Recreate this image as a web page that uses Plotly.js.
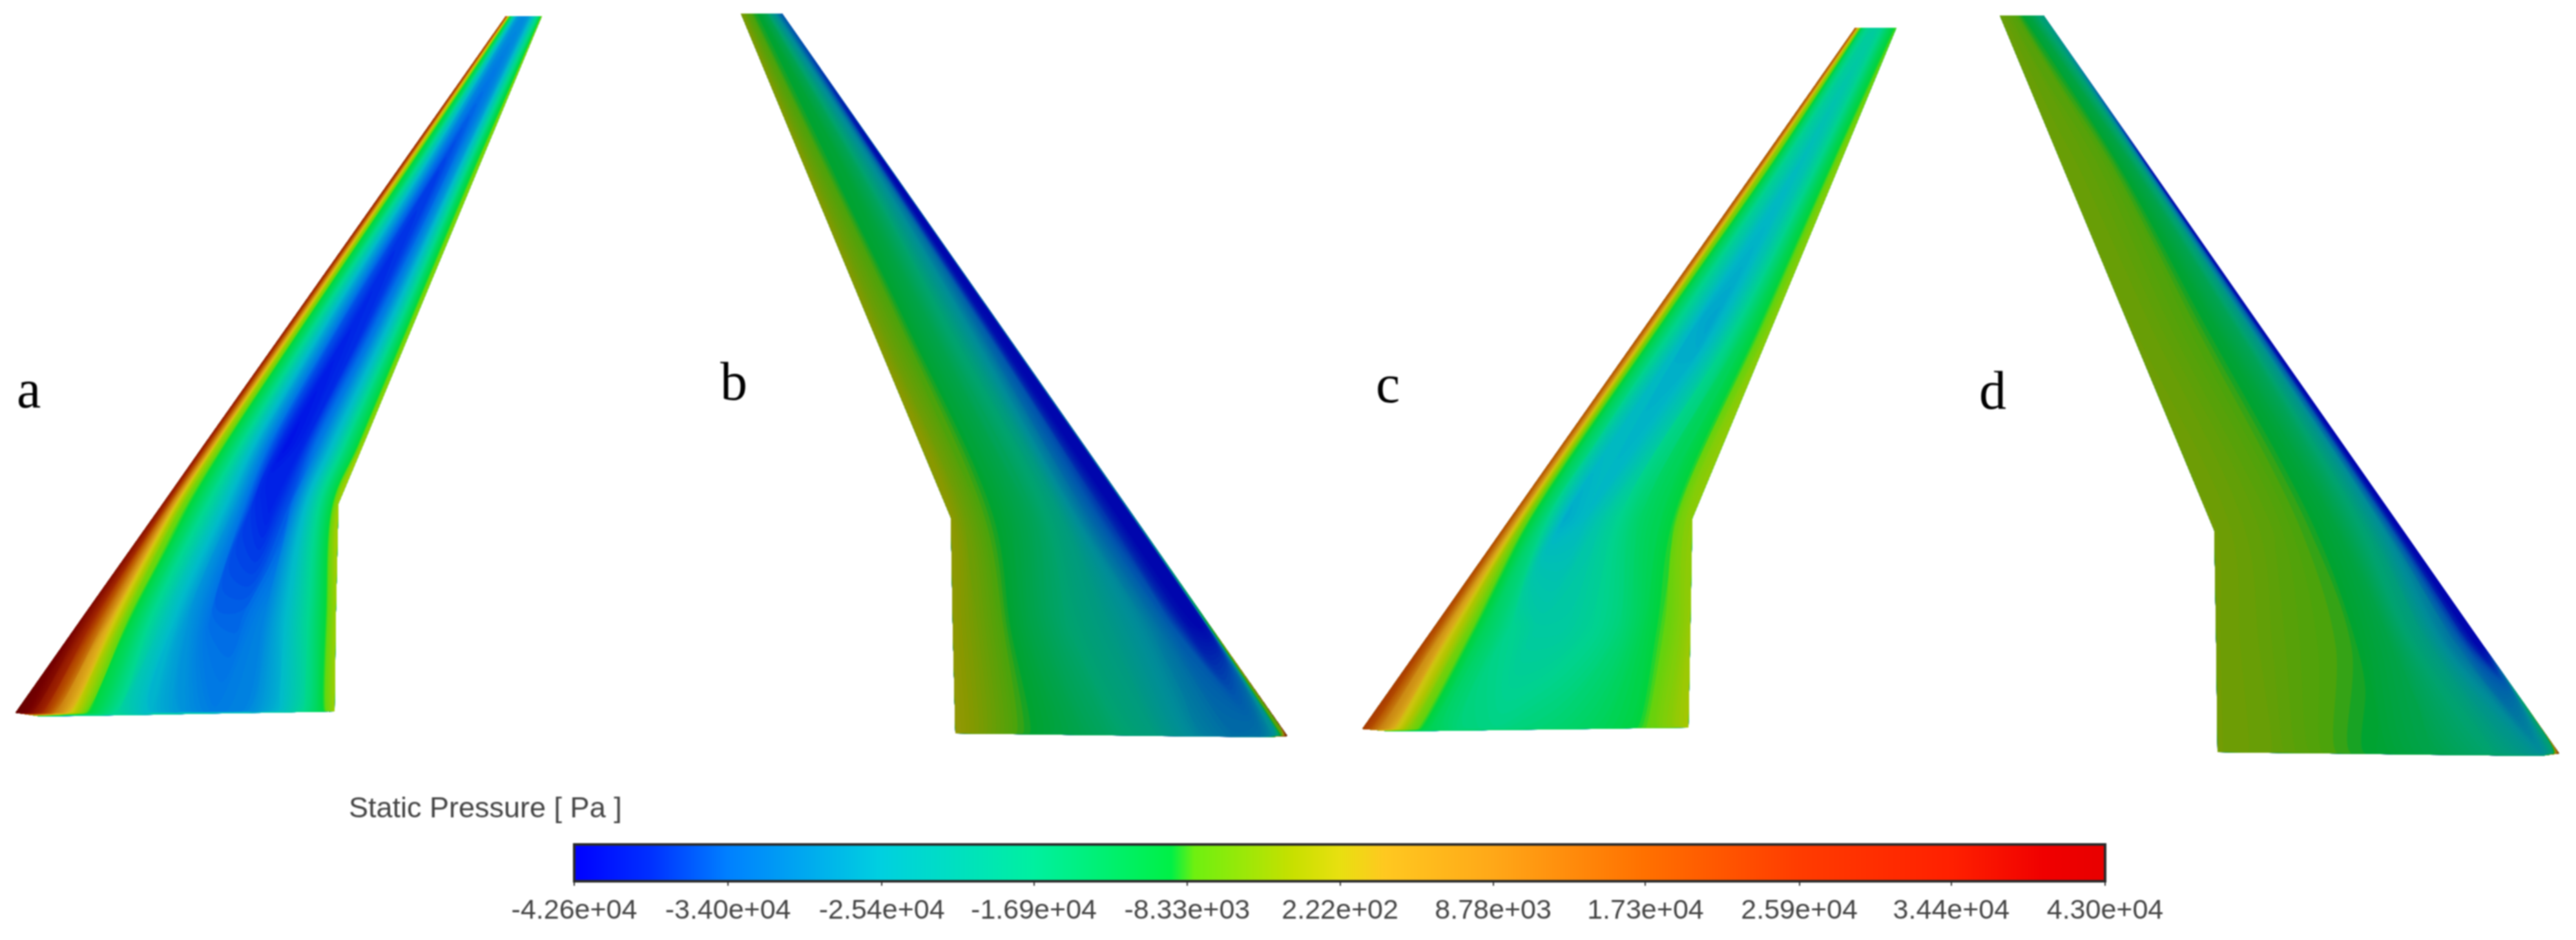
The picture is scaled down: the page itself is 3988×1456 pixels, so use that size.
<!DOCTYPE html>
<html>
<head>
<meta charset="utf-8">
<script src="https://cdn.plot.ly/plotly-3.0.1.min.js"></script>
<style>
html,body{margin:0;padding:0;background:#fff}
#chart{width:3988px;height:1456px;filter:blur(1px)}
</style>
</head>
<body>
<div id="chart"></div>
<script>
// Colour bar
const tickLabels = ['-4.26e+04','-3.40e+04','-2.54e+04','-1.69e+04','-8.33e+03','2.22e+02','8.78e+03','1.73e+04','2.59e+04','3.44e+04','4.30e+04'];
const tickValues = [-42600,-34000,-25400,-16900,-8330,222,8780,17300,25900,34400,43000];
const scaleStops = [0,.05,.1,.2,.3,.39,.405,.47,.5,.53,.6,.7,.8,.9,.96,1];
const scaleRGB = [[0,0,255],[0,48,255],[0,128,255],[0,208,224],[0,240,160],[0,240,70],[110,240,16],[200,224,0],[232,224,16],[255,200,32],[255,168,24],[255,112,0],[255,60,0],[255,32,0],[240,0,0],[232,0,0]];

// Wing a: chord fractions, stations (leading / trailing edge), pressures in kPa
const aChord = [0,.02,.05,.08,.12,.17,.22,.32,.42,.52,.62,.72,.82,.9,.96,1];
const aLeX = [783,625,449,315,252,132,24,64];
const aLeY = [25,250,500,690,780,950,1104,1110];
const aTeX = [839,745,641,562,524,520,518,518];
const aTeY = [25,250,500,690,780,950,1101,1102];
const aKPa = [
 [22,16,6,-3,-10,-14,-22,-29,-31,-31,-30,-26,-20,-15,-10,-5],
 [28,20,6,-3,-9,-12,-17,-27,-34,-37,-35,-30,-20,-12,-8,-5],
 [30,20,6,-3,-9,-13,-18,-28,-36,-39,-38,-33,-24,-15,-9,-5],
 [32,22,8,-3,-8,-12,-16,-26,-35,-41,-39,-33,-24,-15,-10,-4],
 [33,25,10,0,-7,-10,-14,-22,-30,-38,-39.5,-36,-25,-16,-10,-4],
 [38,34,24,14,2,-7,-12,-22,-30,-35,-35,-32,-24,-16,-9,-4],
 [43,42,36,26,12,1,-8,-18,-26,-30,-33,-32,-26,-17,-10,-4],
 [-22,-22,-22,-22,-22,-20,-18,-18,-18,-18,-20,-20,-18,-15,-10,-4]
];

// Wing b
const bChord = [0,.015,.04,.08,.15,.25,.4,.55,.7,.82,.92,1];
const bLeX = [1211,1371,1546,1757,1874,1993,1958];
const bLeY = [21,250,500,802,970,1140,1142];
const bTeX = [1147,1242,1346,1472,1475,1479,1479];
const bTeY = [21,250,500,802,970,1135,1136];
const bKPa = [
 [-33,-33,-32,-30,-26,-21,-13,-9.5,-8.5,-7,-5,-3],
 [-30,-42,-42,-38,-28,-22,-14,-10,-9,-7,-5,-2.5],
 [-30,-42,-42,-41,-33,-26,-18,-12.5,-9.5,-7,-5,-2.5],
 [-25,-42,-42,-42,-37,-31,-20,-14.5,-10.5,-8,-5,-2],
 [-5,-40,-42,-41,-34,-27,-21,-17,-12,-7.5,-4,-1.5],
 [30,-5,-25,-30,-31,-28,-20,-15,-11,-8,-4,-1],
 [-24,-26,-26,-26,-26,-24,-18,-14,-11,-8,-4,-1]
];

// Wing c
const cChord = [0,.02,.05,.09,.14,.2,.3,.4,.5,.6,.72,.82,.9,.95,1];
const cLeX = [2872,2727,2551,2338,2221,2109,2153];
const cLeY = [43,250,500,803,970,1129,1133];
const cTeX = [2936,2850,2746,2620,2617,2614,2614];
const cTeY = [43,250,500,803,970,1126,1127];
const cKPa = [
 [18,14,5,-3,-9,-14,-17,-19,-19,-18,-15,-12,-10,-9,-8],
 [18,14,4,-4,-8,-12,-18,-21,-24,-22,-17,-12,-9,-7,-5],
 [18,12,2,-7,-11,-15,-21,-27,-28,-24,-17,-12,-9,-7,-5],
 [18,12,2,-7,-11,-16,-27,-25,-21,-17,-13,-11,-9,-6,-5],
 [20,16,6,-1,-7,-12,-17,-20,-20,-18,-15,-11,-8,-6,-4],
 [22,18,10,3,-5,-11,-15,-16,-15,-14,-12,-10,-7,-5,-3],
 [-14,-14,-14,-14,-14,-13,-13,-13,-12,-12,-11,-9,-7,-5,-3]
];

// Wing d
const dChord = [0,.02,.05,.1,.2,.35,.5,.7,.85,1];
const dLeX = [3164,3322,3496,3721,3845,3962,3933];
const dLeY = [24,250,500,822,1000,1167,1171];
const dTeX = [3096,3190,3294,3428,3431,3433,3433];
const dTeY = [24,250,500,822,1000,1164,1165];
const dKPa = [
 [-19,-19,-19,-18,-15,-11,-9,-7,-6,-5],
 [-42,-38,-28,-18,-12,-9,-7,-6,-5.5,-5],
 [-42,-40,-32,-22,-14,-10,-8,-6.5,-5.5,-5],
 [-42,-42,-36,-26,-18,-11,-8.5,-6.5,-5.5,-4.5],
 [-42,-42,-37,-30,-21,-12,-8.5,-7,-5.5,-4.5],
 [20,-18,-25,-22,-17,-13,-10,-7.5,-5.5,-4.5],
 [-20,-20,-18,-16,-14,-11,-9,-7,-5.5,-4.5]
];

// Panel letters
const panelLetters = ['a','b','c','d'];
const panelX = [44,1136,2148,3085];
const panelY = [602,590,594,604];

const zMin = tickValues[0], zMax = tickValues[tickValues.length-1];
const barScale = scaleStops.map((t,i)=>[t,`rgb(${scaleRGB[i].join(',')})`]);
function litScale(shade){
  return scaleStops.map((t,i)=>{
    const k = shade*(t>.5 ? 1-(t-.5)*1.0 : 1);
    return [t,`rgb(${scaleRGB[i].map(v=>Math.round(v*k)).join(',')})`];
  });
}
function wing(id,chord,leX,leY,teX,teY,kPa,shade){
  const across = (l,t)=>l.map((v,j)=>chord.map(f=>v+f*(t[j]-v)));
  const rows = leX.map((_,j)=>j);
  const hidden = {showgrid:false,showline:false,showticklabels:'none',startline:false,endline:false,
                  minorgridcount:0,ticks:'',smoothing:0,linewidth:0,gridwidth:0,type:'linear'};
  return [
    {type:'carpet',carpet:id,a:chord,b:rows,x:across(leX,teX),y:across(leY,teY),
     aaxis:hidden,baxis:hidden,hoverinfo:'skip'},
    {type:'contourcarpet',carpet:id,a:chord,b:rows,z:kPa.map(r=>r.map(v=>v*1000)),
     autocontour:false,contours:{coloring:'fill',start:zMin,end:zMax,size:500,showlines:false},
     line:{width:0},zmin:zMin,zmax:zMax,zauto:false,colorscale:litScale(shade),showscale:false}
  ];
}
const traces = [
  ...wing('a',aChord,aLeX,aLeY,aTeX,aTeY,aKPa,.9),
  ...wing('b',bChord,bLeX,bLeY,bTeX,bTeY,bKPa,.68),
  ...wing('c',cChord,cLeX,cLeY,cTeX,cTeY,cKPa,.88),
  ...wing('d',dChord,dLeX,dLeY,dTeX,dTeY,dKPa,.68),
  {type:'scatter',mode:'markers',x:[-100,-100],y:[-100,-100],hoverinfo:'skip',
   marker:{size:1,opacity:0,color:[zMin,zMax],cmin:zMin,cmax:zMax,colorscale:barScale,showscale:true,
     colorbar:{orientation:'h',x:(889+3259)/2/3988,xanchor:'center',len:2370,lenmode:'pixels',
       thickness:57,thicknessmode:'pixels',y:1-1308/1456,yanchor:'top',yref:'paper',xpad:0,ypad:0,
       outlinecolor:'#2a2a2a',outlinewidth:4,borderwidth:0,
       tickmode:'array',tickvals:tickValues,ticktext:tickLabels,ticks:'outside',ticklen:5,tickwidth:2,tickcolor:'#333',
       tickfont:{family:'Liberation Sans',size:43,color:'#444'}}}}
];
const layout = {
  width:3988,height:1456,margin:{l:0,r:0,t:0,b:0},showlegend:false,
  paper_bgcolor:'#fff',plot_bgcolor:'#fff',
  xaxis:{range:[0,3988],visible:false,fixedrange:true},
  yaxis:{range:[1456,0],visible:false,fixedrange:true},
  annotations:[
    ...panelLetters.map((t,i)=>({text:t,x:panelX[i],y:panelY[i],xref:'x',yref:'y',showarrow:false,xanchor:'center',yanchor:'middle',
      font:{family:'Liberation Serif',size:84,color:'#000'}})),
    {text:'Static Pressure [ Pa ]',x:538,y:1250,xref:'x',yref:'y',showarrow:false,xanchor:'left',yanchor:'middle',
     font:{family:'Liberation Sans',size:45,color:'#444'}}
  ]
};
Plotly.newPlot('chart',traces,layout,{staticPlot:true,displayModeBar:false});
</script>
</body>
</html>
